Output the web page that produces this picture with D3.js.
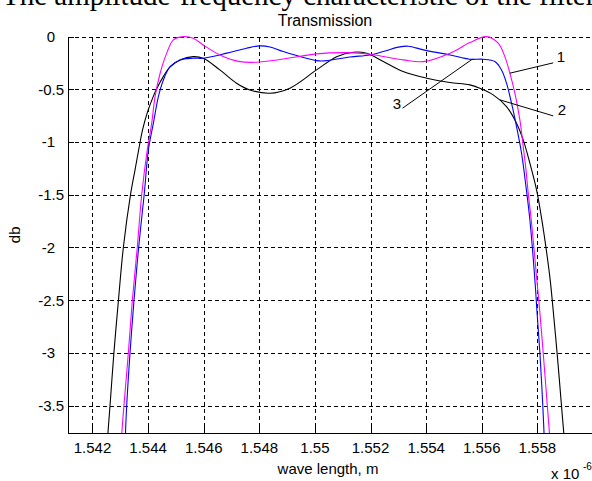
<!DOCTYPE html>
<html>
<head>
<meta charset="utf-8">
<script src="https://cdn.jsdelivr.net/npm/d3@7"></script>
<style>
  html, body { margin: 0; padding: 0; background: #fff; overflow: hidden; }
  svg { display: block; }
  text { font-family: "Liberation Sans", Arial, sans-serif; fill: #000; }
</style>
</head>
<body>
<svg id="chart" width="592" height="481"></svg>
<script>
// ---------- data (wavelength in units of 1e-6 m, transmission in dB) ----------
const xTickValues = [1.542, 1.544, 1.546, 1.548, 1.550, 1.552, 1.554, 1.556, 1.558];
const xTickLabels = ["1.542", "1.544", "1.546", "1.548", "1.55", "1.552", "1.554", "1.556", "1.558"];
const yTickValues = [0, -0.5, -1, -1.5, -2, -2.5, -3, -3.5];
const yTickLabels = ["0", "-0.5", "-1", "-1.5", "-2", "-2.5", "-3", "-3.5"];

const pageTitle = "The amplitude-frequency characteristic of the filter";
const chartTitle = "Transmission";
const xAxisLabel = "wave length, m";
const yAxisLabel = "db";
const xMultiplierBase = "x 10";
const xMultiplierExp = "-6";

// curve 1 (magenta)
const curve1Wave = [1.54300, 1.54313, 1.54329, 1.54343, 1.54361, 1.54377, 1.54397, 1.54413, 1.54425, 1.54443,
  1.54467, 1.54491, 1.54527, 1.54562, 1.54598, 1.54658, 1.54730, 1.54790, 1.54870, 1.55006,
  1.55114, 1.55198, 1.55318, 1.55390, 1.55486, 1.55557, 1.55617, 1.55659, 1.55683, 1.55701,
  1.55719, 1.55737, 1.55749, 1.55759, 1.55767, 1.55778, 1.55798, 1.55805, 1.55821, 1.55835, 1.55849];
const curve1Db = [-3.95, -3.50, -3.00, -2.51, -2.00, -1.50, -1.075, -0.82, -0.57, -0.35,
  -0.157, -0.031, 0.0, -0.015, -0.079, -0.174, -0.237, -0.243, -0.22, -0.164,
  -0.152, -0.167, -0.221, -0.237, -0.158, -0.057, 0.0, -0.063, -0.19, -0.347,
  -0.537, -0.79, -1.043, -1.264, -1.485, -1.739, -2.308, -2.497, -3.003, -3.477, -3.95];

// curve 2 (black)
const curve2Wave = [1.54250, 1.54263, 1.54277, 1.54293, 1.54311, 1.54337, 1.54353, 1.54366, 1.54380, 1.54398,
  1.54418, 1.54430, 1.54454, 1.54479, 1.54515, 1.54562, 1.54598, 1.54658, 1.54718, 1.54766,
  1.54838, 1.54910, 1.55006, 1.55078, 1.55138, 1.55186, 1.55246, 1.55317, 1.55402, 1.55485,
  1.55557, 1.55593, 1.55641, 1.55689, 1.55725, 1.55749, 1.55773, 1.55797, 1.55816, 1.55832,
  1.55846, 1.55860, 1.55873, 1.55885, 1.55897, 1.55902];
const curve2Db = [-3.95, -3.50, -3.00, -2.51, -2.00, -1.495, -1.264, -1.075, -0.885, -0.714,
  -0.572, -0.50, -0.382, -0.287, -0.221, -0.19, -0.205, -0.316, -0.442, -0.506,
  -0.537, -0.489, -0.316, -0.19, -0.148, -0.158, -0.237, -0.332, -0.395, -0.436,
  -0.458, -0.49, -0.553, -0.664, -0.821, -0.98, -1.20, -1.454, -1.739, -2.023,
  -2.308, -2.687, -3.066, -3.446, -3.825, -3.95];

// curve 3 (blue)
const curve3Wave = [1.54316, 1.54323, 1.54335, 1.54349, 1.54366, 1.54386, 1.54401, 1.54419, 1.54437, 1.54455,
  1.54479, 1.54515, 1.54562, 1.54598, 1.54683, 1.54754, 1.54802, 1.54838, 1.54886, 1.55006,
  1.55036, 1.55126, 1.55198, 1.55252, 1.55300, 1.55336, 1.55390, 1.55486, 1.55557, 1.55605,
  1.55647, 1.55671, 1.55689, 1.55707, 1.55725, 1.55743, 1.55759, 1.55773, 1.55791, 1.55799,
  1.55809, 1.55819, 1.55827];
const curve3Db = [-3.95, -3.50, -3.00, -2.51, -2.00, -1.495, -1.075, -0.821, -0.569, -0.411,
  -0.285, -0.221, -0.205, -0.205, -0.157, -0.11, -0.088, -0.098, -0.142, -0.228,
  -0.23, -0.193, -0.174, -0.136, -0.100, -0.091, -0.126, -0.174, -0.215, -0.215,
  -0.237, -0.316, -0.442, -0.632, -0.854, -1.106, -1.423, -1.739, -2.308, -2.624,
  -3.00, -3.477, -3.95];

const seriesNames = ["1", "2", "3"];
const seriesColors = ["#ff00ff", "#000000", "#0000ff"];

// annotation leader lines, in data units: [curve point], [label-side end], [label centre]
const annotationLabels = ["1", "2", "3"];
const annotationCurvePoints = [[1.55701, -0.347], [1.55665, -0.60], [1.55566, -0.214]];
const annotationLineEnds = [[1.55857, -0.249], [1.55857, -0.752], [1.55315, -0.679]];
const annotationTextPoints = [[1.55885, -0.19], [1.55888, -0.695], [1.55295, -0.64]];

// ---------- layout ----------
const W = 592, H = 481;
const plotLeft = 68, plotRight = 593, plotTop = 36.6, plotBottom = 433;

const svg = d3.select("#chart");

const x = d3.scaleLinear().domain([1.541119, 1.56]).range([plotLeft, plotRight]);
const y = d3.scaleLinear().domain([-3.76, 0]).range([plotBottom, plotTop]);

const px = v => Math.round(x(v)) + 0.5;
const py = v => Math.round(y(v)) + 0.5;

// page heading (clipped at top, as in the source image)
svg.append("text")
  .attr("x", 2).attr("y", 5)
  .style("font-family", "'Liberation Serif', 'Times New Roman', serif")
  .style("font-size", "29px")
  .text(pageTitle);

// chart title
svg.append("text")
  .attr("x", 325).attr("y", 25.5)
  .attr("text-anchor", "middle")
  .style("font-size", "16px")
  .text(chartTitle);

// grid
const grid = svg.append("g")
  .attr("stroke", "#000").attr("stroke-width", 1)
  .attr("stroke-dasharray", "4,3")
  .attr("shape-rendering", "crispEdges");
grid.selectAll("line.v").data(xTickValues).join("line")
  .attr("class", "v")
  .attr("x1", d => px(d)).attr("x2", d => px(d))
  .attr("y1", Math.round(plotTop) + 0.5).attr("y2", plotBottom);
grid.selectAll("line.h").data(yTickValues).join("line")
  .attr("class", "h")
  .attr("x1", plotLeft).attr("x2", plotRight)
  .attr("y1", d => py(d)).attr("y2", d => py(d));

// curves
svg.append("clipPath").attr("id", "plotclip")
  .append("rect")
  .attr("x", plotLeft).attr("y", plotTop - 2)
  .attr("width", plotRight - plotLeft).attr("height", plotBottom - plotTop + 2);

const line = d3.line()
  .x(d => x(d[0])).y(d => y(d[1]))
  .curve(d3.curveCatmullRom.alpha(0.5));

const seriesData = [
  d3.zip(curve1Wave, curve1Db),
  d3.zip(curve2Wave, curve2Db),
  d3.zip(curve3Wave, curve3Db)
];

const drawOrder = [1, 2, 0];
svg.append("g").attr("clip-path", "url(#plotclip)")
  .selectAll("path").data(drawOrder).join("path")
  .attr("d", i => line(seriesData[i]))
  .attr("fill", "none")
  .attr("stroke", i => seriesColors[i])
  .attr("stroke-width", 1.1);

// axes (left and bottom solid lines, inward ticks)
const axes = svg.append("g").attr("shape-rendering", "crispEdges").attr("stroke", "#000");
axes.append("line")
  .attr("x1", plotLeft + 0.5).attr("x2", plotLeft + 0.5)
  .attr("y1", Math.round(plotTop)).attr("y2", plotBottom + 0.5);
axes.append("line")
  .attr("x1", plotLeft).attr("x2", W)
  .attr("y1", plotBottom + 0.5).attr("y2", plotBottom + 0.5);
axes.selectAll("line.xt").data(xTickValues).join("line")
  .attr("class", "xt")
  .attr("x1", d => px(d)).attr("x2", d => px(d))
  .attr("y1", plotBottom).attr("y2", plotBottom - 6);
axes.selectAll("line.yt").data(yTickValues).join("line")
  .attr("class", "yt")
  .attr("x1", plotLeft).attr("x2", plotLeft + 6)
  .attr("y1", d => py(d)).attr("y2", d => py(d));

// tick labels
svg.append("g").selectAll("text").data(xTickValues).join("text")
  .attr("x", d => x(d)).attr("y", 453)
  .attr("text-anchor", "middle")
  .style("font-size", "15px")
  .text((d, i) => xTickLabels[i]);

svg.append("g").selectAll("text").data(yTickValues).join("text")
  .attr("x", (d, i) => yTickLabels[i].includes(".") ? 64 : 55)
  .attr("y", d => y(d))
  .attr("dy", "0.36em")
  .attr("text-anchor", "end")
  .style("font-size", "15px")
  .text((d, i) => yTickLabels[i]);

// axis labels
svg.append("text")
  .attr("x", 328).attr("y", 474)
  .attr("text-anchor", "middle")
  .style("font-size", "15px")
  .text(xAxisLabel);

svg.append("text")
  .attr("transform", `translate(19.5,${(plotTop + plotBottom) / 2}) rotate(-90)`)
  .attr("text-anchor", "middle")
  .style("font-size", "15px")
  .text(yAxisLabel);

svg.append("text")
  .attr("x", 551).attr("y", 479)
  .style("font-size", "15px")
  .text(xMultiplierBase);
svg.append("text")
  .attr("x", 583).attr("y", 470)
  .style("font-size", "10px")
  .text(xMultiplierExp);

// annotations
const ann = svg.append("g");
ann.selectAll("line").data(annotationLabels).join("line")
  .attr("x1", (d, i) => x(annotationCurvePoints[i][0]))
  .attr("y1", (d, i) => y(annotationCurvePoints[i][1]))
  .attr("x2", (d, i) => x(annotationLineEnds[i][0]))
  .attr("y2", (d, i) => y(annotationLineEnds[i][1]))
  .attr("stroke", "#000").attr("stroke-width", 1);
ann.selectAll("text").data(annotationLabels).join("text")
  .attr("x", (d, i) => x(annotationTextPoints[i][0]))
  .attr("y", (d, i) => y(annotationTextPoints[i][1]))
  .attr("dy", "0.36em")
  .attr("text-anchor", "middle")
  .style("font-size", "15px")
  .text(d => d);
</script>
</body>
</html>
